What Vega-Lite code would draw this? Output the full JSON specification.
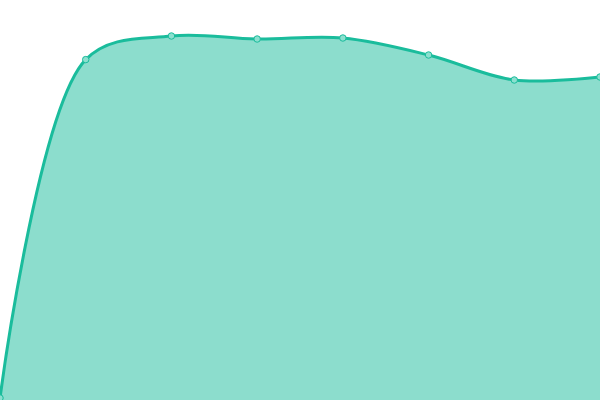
{
  "$schema": "https://vega.github.io/schema/vega-lite/v6.json",
  "width": 600,
  "height": 400,
  "autosize": {"type": "none"},
  "padding": 0,
  "background": "white",
  "config": {"view": {"stroke": null}},
  "data": {
    "values": [
      {"i": 0, "v": 0.5},
      {"i": 1, "v": 85.1},
      {"i": 2, "v": 91},
      {"i": 3, "v": 90.25},
      {"i": 4, "v": 90.5},
      {"i": 5, "v": 86.25},
      {"i": 6, "v": 80},
      {"i": 7, "v": 80.75}
    ]
  },
  "encoding": {
    "x": {"field": "i", "type": "quantitative", "axis": null, "scale": {"domain": [0, 7], "nice": false}},
    "y": {"field": "v", "type": "quantitative", "axis": null, "scale": {"domain": [0, 100], "nice": false}}
  },
  "layer": [
    {
      "mark": {"type": "area", "interpolate": "catmull-rom", "color": "#1abc9c", "fillOpacity": 0.5, "line": {"color": "#1abc9c", "strokeWidth": 3}}
    },
    {
      "mark": {"type": "point", "filled": true, "fill": "#8be0cf", "stroke": "#1abc9c", "strokeWidth": 1, "size": 42, "opacity": 1}
    }
  ]
}
